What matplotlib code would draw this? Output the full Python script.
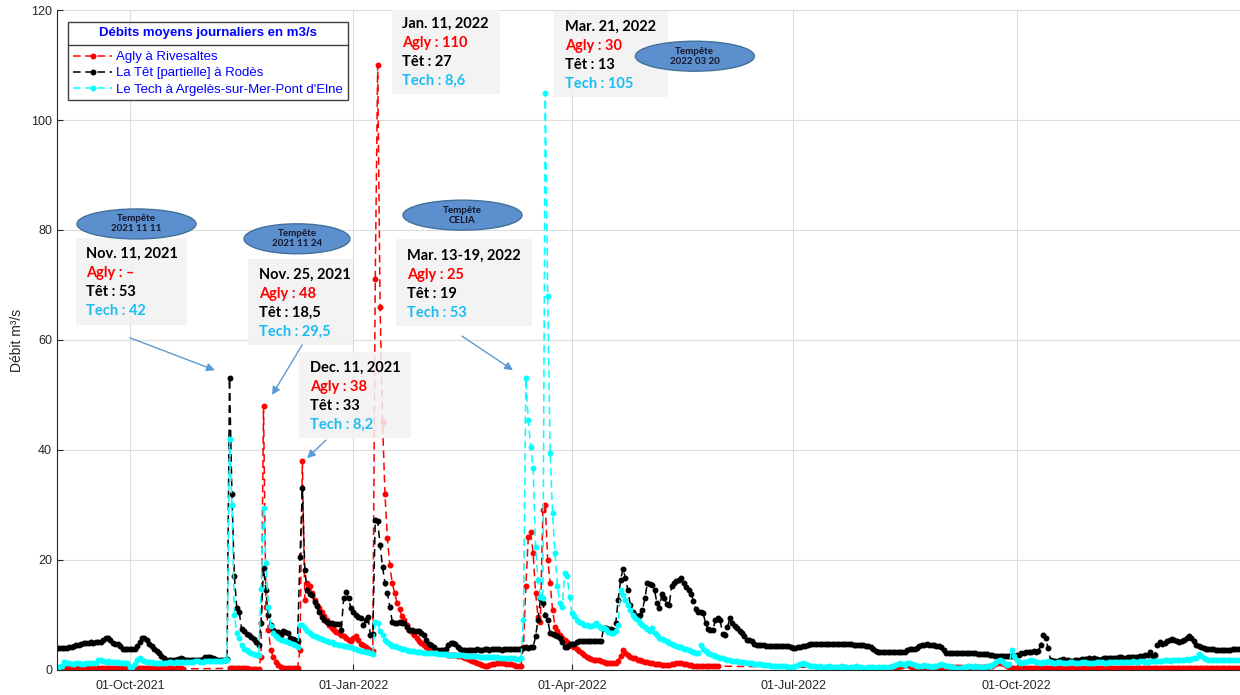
import numpy as np
import pandas as pd
import matplotlib
matplotlib.use("Agg")
import matplotlib.pyplot as plt
import matplotlib.dates as mdates
from matplotlib.lines import Line2D
from matplotlib.patches import Ellipse, Rectangle

NA = np.nan

# Daily mean discharge (m3/s), 1 Sep 2021 -> 31 Dec 2022, one block per month
agly = [
    # Sep 2021
    0.3, 0.3, 0.3, 0.3, 0.4, 0.4, 0.3, 0.3, 0.3, 0.3, 0.3, 0.3, 0.3, 0.3, 0.3,
    0.3, 0.3, 0.4, 0.4, 0.3, 0.3, 0.3, 0.3, 0.3, 0.3, 0.3, 0.3, 0.3, 0.3, 0.3,
    # Oct 2021
    0.3, 0.3, 0.3, 0.3, 0.4, 0.4, 0.3, 0.3, 0.3, 0.3, 0.3, 0.3, 0.3, 0.3, 0.3, 0.3,
    0.3, 0.3, 0.3, 0.3, 0.3, 0.3, 0.2, NA, NA, NA, NA, NA, NA, NA, NA,
    # Nov 2021
    NA, NA, NA, NA, NA, NA, NA, NA, NA, NA, 0.3, 0.3, 0.3, 0.3, 0.3,
    0.3, 0.3, 0.3, 0.2, 0.2, 0.2, 0.2, 0.2, 2.4, 48.0, 11.5, 7.3, 3.6, 2.4, 1.5,
    # Dec 2021
    0.9, 0.5, 0.3, 0.3, 0.3, 0.3, 0.3, 0.3, 0.3, 3.6, 38.0, 12.7, 15.8, 15.2, 14.0, 12.7,
    11.8, 11.2, 10.6, 9.8, 9.1, 8.2, 7.6, 7.3, 6.9, 6.7, 6.4, 6.1, 5.8, 5.5, 5.2,
    # Jan 2022
    5.8, 6.1, 5.4, 4.8, 4.5, 4.2, 3.9, 3.6, 3.4, 71.0, 110.0, 66.0, 45.0, 32.0, 24.0, 19.0,
    15.8, 14.0, 12.1, 11.0, 9.8, 9.0, 8.2, 7.3, 6.9, 6.4, 5.8, 5.2, 4.9, 4.5, 4.2,
    # Feb 2022
    3.9, 3.7, 3.5, 3.3, 3.2, 3.1, 3.0, 2.9, 2.8, 2.8, 2.7, 2.7, 2.6, 2.5,
    2.3, 2.2, 2.0, 1.8, 1.6, 1.4, 1.2, 1.0, 0.9, 0.8, 0.8, 0.9, 1.0, 1.0,
    # Mar 2022
    1.2, 1.2, 1.2, 1.2, 1.1, 1.0, 1.0, 0.9, 0.8, 0.8, 0.8, 4.2, 15.2, 24.2, 25.0, 21.2,
    14.0, 9.7, 8.8, 29.1, 30.0, 20.0, 15.8, 10.9, 7.9, 7.0, 6.4, 5.9, 5.5, 5.0, 4.6,
    # Apr 2022
    4.4, 4.2, 3.8, 3.4, 3.0, 2.7, 2.4, 2.2, 2.0, 1.9, 1.8, 1.8, 1.6, 1.4, 1.2,
    1.2, 1.2, 1.2, 1.3, 1.6, 2.6, 3.6, 3.0, 2.7, 2.4, 2.2, 2.1, 1.9, 1.8, 1.6,
    # May 2022
    1.5, 1.4, 1.3, 1.2, 1.1, 1.0, 1.0, 0.9, 0.9, 0.9, 0.9, 1.0, 1.1, 1.2, 1.3, 1.2,
    1.1, 1.0, 0.9, 0.9, 0.8, 0.8, 0.8, 0.7, 0.7, 0.7, 0.7, 0.7, 0.7, 0.7, 0.7,
    # Jun 2022 (no record)
    NA, NA, NA, NA, NA, NA, NA, NA, NA, NA, NA, NA, NA, NA, NA,
    NA, NA, NA, NA, NA, NA, NA, NA, NA, NA, NA, NA, NA, NA, NA,
    # Jul 2022 (no record)
    NA, NA, NA, NA, NA, NA, NA, NA, NA, NA, NA, NA, NA, NA, NA, NA,
    NA, NA, NA, NA, NA, NA, NA, NA, NA, NA, NA, NA, NA, NA, NA,
    # Aug 2022
    NA, NA, NA, NA, NA, NA, 0.3, 0.4, 0.4, 0.5, 0.5, 0.5, 0.6, 0.7, 0.8, 0.9,
    0.9, 0.8, 0.6, 0.4, 0.3, 0.3, 0.3, 0.3, 0.3, 0.4, 0.4, 0.5, 0.6, 0.6, 0.5,
    # Sep 2022
    0.5, 0.5, 0.6, 0.5, 0.5, 0.6, 0.5, 0.5, 0.4, 0.5, 0.5, 0.6, 0.5, 0.5, 0.5,
    0.6, 0.5, 0.5, 0.6, 0.7, 0.8, 1.0, 1.2, 1.3, 1.2, 1.0, 0.8, 0.6, 0.4, 0.3,
    # Oct 2022
    0.4, 0.3, 0.3, 0.3, 0.3, 0.3, 0.3, 0.3, 0.3, 0.3, 0.3, 0.3, 0.3, 0.3, 0.3, 0.3,
    0.3, 0.3, 0.3, 0.3, 0.3, 0.3, 0.3, 0.3, 0.3, 0.3, 0.3, 0.3, 0.3, 0.3, 0.3,
    # Nov 2022
    0.3, 0.3, 0.3, 0.3, 0.3, 0.3, 0.3, 0.3, 0.3, 0.3, 0.3, 0.3, 0.3, 0.3, 0.3,
    0.3, 0.3, 0.3, 0.3, 0.3, 0.3, 0.3, 0.3, 0.3, 0.3, 0.3, 0.3, 0.3, 0.3, 0.3,
    # Dec 2022
    0.3, 0.3, 0.3, 0.3, 0.3, 0.3, 0.3, 0.3, 0.3, 0.3, 0.3, 0.3, 0.3, 0.3, 0.3, 0.3,
    0.3, 0.3, 0.3, 0.3, 0.3, 0.3, 0.3, 0.3, 0.3, 0.3, 0.3, 0.3, 0.3, 0.3, 0.3,
]

tet = [
    # Sep 2021
    4.0, 4.0, 4.0, 4.0, 4.0, 4.1, 4.1, 4.3, 4.5, 4.6, 4.8, 4.9, 4.9, 4.9, 5.0,
    4.9, 5.0, 5.0, 5.1, 5.4, 5.9, 5.8, 5.5, 4.9, 4.8, 4.7, 4.3, 3.9, 3.8, 3.8,
    # Oct 2021
    3.8, 3.9, 3.9, 4.3, 5.0, 5.8, 5.9, 5.5, 4.8, 4.3, 3.9, 3.5, 3.0, 2.6, 2.2, 1.9,
    1.8, 1.8, 1.9, 1.9, 2.0, 2.1, 2.0, 1.9, 1.8, 1.8, 1.8, 1.8, 1.9, 1.9, 2.0,
    # Nov 2021
    2.3, 2.4, 2.3, 2.2, 2.0, 1.9, 1.9, 1.8, 1.9, 2.0, 53.0, 32.0, 17.0, 11.3, 10.5,
    7.4, 7.0, 6.6, 6.3, 6.0, 5.6, 5.0, 4.5, 8.5, 18.5, 14.5, 10.0, 8.2, 7.2, 6.9,
    # Dec 2021
    6.9, 6.4, 7.0, 6.9, 6.7, 5.9, 5.7, 5.5, 5.2, 20.6, 33.0, 18.2, 14.5, 13.9, 13.6, 12.4,
    11.6, 10.5, 9.7, 9.1, 8.8, 8.6, 8.5, 8.4, 8.4, 8.4, 7.3, 13.0, 14.2, 13.0, 11.2,
    # Jan 2022
    10.6, 10.0, 9.7, 9.4, 8.2, 9.0, 9.7, 6.4, 6.5, 27.3, 27.0, 22.7, 18.8, 15.8, 14.0, 11.5,
    8.8, 8.5, 8.6, 8.8, 8.6, 8.5, 7.9, 7.3, 7.2, 7.1, 7.0, 7.0, 6.8, 6.4, 5.5,
    # Feb 2022
    4.8, 4.5, 4.1, 3.5, 3.6, 3.6, 3.7, 3.9, 4.5, 4.9, 4.9, 4.8, 4.2, 3.8,
    3.7, 3.6, 3.6, 3.6, 3.7, 3.7, 3.8, 3.7, 3.7, 3.8, 3.8, 3.7, 3.8, 3.8,
    # Mar 2022
    3.8, 3.8, 3.7, 3.8, 3.9, 3.8, 3.8, 3.8, 3.9, 3.8, 3.9, 4.0, 4.1, 4.0, 4.1, 4.1,
    6.1, 9.1, 13.0, 12.1, 10.0, 9.1, 6.7, 6.5, 6.4, 6.1, 5.8, 5.0, 4.2, 4.2, 4.8,
    # Apr 2022
    4.8, 4.8, 5.0, 5.2, 5.2, 5.2, 5.2, 5.2, 5.2, 5.2, 5.2, 5.2, 5.2, 7.6, 7.6,
    7.5, 7.4, 7.3, 8.5, 12.7, 16.4, 18.4, 16.7, 14.5, 11.8, 10.6, 10.0, 9.4, 10.0, 10.9,
    # May 2022
    13.0, 15.8, 15.6, 15.5, 14.5, 12.1, 11.2, 13.9, 13.0, 12.0, 11.8, 15.2, 15.8, 16.1, 16.4, 16.7,
    15.8, 15.0, 14.5, 13.9, 12.5, 11.0, 10.6, 10.5, 10.3, 8.5, 7.5, 7.3, 7.3, 9.0, 9.4,
    # Jun 2022
    9.1, 6.5, 6.4, 7.8, 9.4, 8.5, 8.0, 7.6, 7.0, 6.7, 6.2, 5.5, 5.5, 5.2, 4.8,
    4.5, 4.5, 4.5, 4.5, 4.4, 4.4, 4.4, 4.4, 4.4, 4.4, 4.4, 4.4, 4.4, 4.3, 4.1,
    # Jul 2022
    4.0, 4.0, 4.1, 4.2, 4.3, 4.4, 4.6, 4.7, 4.7, 4.7, 4.7, 4.7, 4.8, 4.8, 4.8, 4.8,
    4.8, 4.8, 4.8, 4.7, 4.7, 4.7, 4.7, 4.7, 4.7, 4.6, 4.6, 4.6, 4.5, 4.5, 4.4,
    # Aug 2022
    4.4, 4.2, 3.8, 3.4, 3.2, 3.2, 3.2, 3.2, 3.2, 3.2, 3.2, 3.2, 3.2, 3.3, 3.3, 3.3,
    3.6, 3.9, 3.9, 3.9, 4.0, 4.3, 4.6, 4.6, 4.7, 4.5, 4.6, 4.5, 4.4, 4.4, 4.1,
    # Sep 2022
    3.6, 3.1, 3.0, 3.0, 3.0, 3.0, 3.0, 3.0, 3.0, 3.0, 3.0, 3.0, 3.0, 3.0, 2.9,
    2.9, 2.9, 2.9, 2.9, 2.8, 2.7, 2.6, 2.6, 2.6, 2.6, 2.6, 2.6, 2.5, 2.5, 2.6,
    # Oct 2022
    2.7, 2.8, 3.0, 3.1, 3.2, 3.2, 3.3, 3.4, 3.3, 3.5, 4.5, 6.3, 5.8, 4.0, 1.8, 1.6,
    1.6, 1.7, 1.9, 2.0, 1.9, 1.8, 1.7, 1.7, 1.8, 1.9, 1.9, 2.0, 2.0, 2.0, 2.1,
    # Nov 2022
    2.0, 2.1, 2.0, 1.9, 2.0, 2.1, 2.1, 2.2, 2.2, 2.1, 2.2, 2.3, 2.3, 2.2, 2.2,
    2.3, 2.4, 2.4, 2.3, 2.4, 2.5, 2.6, 2.7, 2.8, 3.3, 2.6, 2.8, 4.5, 5.0, 4.8,
    # Dec 2022
    4.9, 5.2, 5.4, 5.6, 5.5, 5.2, 5.1, 5.3, 5.4, 5.8, 6.2, 5.8, 5.2, 4.6, 4.3, 4.1,
    4.0, 3.9, 3.8, 3.8, 3.8, 3.7, 3.7, 3.6, 3.6, 3.6, 3.6, 3.7, 3.8, 3.8, 3.8,
]

tech = [
    # Sep 2021
    0.5, 0.6, 0.7, 1.5, 1.3, 1.2, 1.1, 1.1, 1.2, 1.2, 1.1, 1.1, 1.2, 1.2, 1.3,
    1.2, 1.3, 1.8, 1.9, 1.7, 1.5, 1.6, 1.5, 1.4, 1.5, 1.4, 1.3, 1.3, 1.2, 1.2,
    # Oct 2021
    0.5, 0.6, 1.0, 1.8, 2.2, 1.8, 1.6, 1.5, 1.4, 1.4, 1.3, 1.3, 1.3, 1.2, 1.3, 1.3,
    1.4, 1.4, 1.3, 1.4, 1.5, 1.5, 1.4, 1.4, 1.5, 1.5, 1.5, 1.6, 1.6, 1.5, 1.5,
    # Nov 2021
    1.6, 1.6, 1.7, 1.7, 1.6, 1.6, 1.7, 1.7, 1.8, 1.8, 42.0, 30.0, 10.0, 6.7, 5.8,
    4.5, 3.9, 3.6, 3.2, 3.0, 2.9, 2.8, 2.7, 14.8, 29.5, 19.4, 11.5, 8.0, 6.7, 6.1,
    # Dec 2021
    5.8, 5.5, 5.4, 5.2, 5.0, 4.9, 4.7, 4.5, 4.2, 8.2, 8.2, 7.6, 7.0, 6.7, 6.4, 6.2,
    6.0, 5.8, 5.6, 5.4, 5.2, 5.1, 5.0, 4.8, 4.7, 4.6, 4.5, 4.4, 4.3, 4.2, 4.1,
    # Jan 2022
    4.0, 3.8, 3.7, 3.5, 3.4, 3.3, 3.2, 3.0, 2.9, 8.8, 8.6, 7.0, 6.4, 5.5, 5.0, 4.7,
    4.4, 4.3, 4.1, 4.0, 3.9, 3.8, 3.7, 3.5, 3.5, 3.4, 3.3, 3.2, 3.2, 3.1, 3.1,
    # Feb 2022
    3.1, 3.0, 3.0, 3.0, 2.9, 2.9, 2.9, 2.9, 2.8, 2.8, 2.8, 2.7, 2.7, 2.7,
    2.7, 2.6, 2.6, 2.6, 2.5, 2.5, 2.5, 2.4, 2.4, 2.4, 2.4, 2.3, 2.3, 2.3,
    # Mar 2022
    2.3, 2.2, 2.2, 2.2, 2.1, 2.1, 2.1, 2.1, 2.0, 2.0, 2.1, 9.1, 53.0, 45.5, 40.6, 36.7,
    22.4, 16.4, 13.3, 13.0, 105.0, 68.0, 39.4, 28.5, 21.2, 15.2, 12.1, 11.5, 17.6, 17.0, 13.3,
    # Apr 2022
    10.3, 9.8, 9.1, 8.8, 8.5, 8.2, 8.1, 8.0, 8.0, 8.2, 8.5, 8.0, 7.6, 7.6, 7.5,
    6.9, 6.8, 6.8, 7.0, 8.2, 14.5, 13.6, 12.7, 11.8, 10.9, 10.0, 9.4, 9.1, 8.5, 8.2,
    # May 2022
    7.9, 7.4, 7.0, 7.6, 6.7, 6.3, 5.9, 5.6, 5.4, 5.2, 4.9, 4.7, 4.5, 4.4, 4.2, 4.1,
    3.9, 3.8, 3.6, 3.4, 3.3, 3.1, 3.0, 4.5, 3.8, 3.4, 3.1, 2.9, 2.7, 2.5, 2.4,
    # Jun 2022
    2.2, 2.1, 2.0, 1.9, 1.8, 1.7, 1.6, 1.6, 1.5, 1.5, 1.4, 1.3, 1.2, 1.2, 1.1,
    1.1, 1.0, 1.0, 0.9, 0.9, 0.9, 0.8, 0.8, 0.8, 0.7, 0.7, 0.7, 0.7, 0.6, 0.6,
    # Jul 2022
    0.6, 0.7, 0.9, 1.1, 1.2, 1.1, 0.9, 0.8, 0.7, 0.7, 0.6, 0.7, 0.6, 0.5, 0.6, 0.7,
    0.6, 0.5, 0.5, 0.6, 0.7, 0.6, 0.5, 0.4, 0.5, 0.6, 0.7, 0.6, 0.5, 0.4, 0.4,
    # Aug 2022
    0.5, 0.6, 0.5, 0.4, 0.5, 0.6, 0.6, 0.5, 0.4, 0.6, 0.8, 0.9, 1.1, 1.2, 1.0, 0.9,
    1.2, 1.3, 1.1, 0.9, 0.8, 0.7, 0.8, 0.9, 0.8, 0.7, 0.6, 0.7, 0.8, 0.9, 1.0,
    # Sep 2022
    0.9, 0.8, 0.7, 0.6, 0.5, 0.4, 0.3, 0.4, 0.5, 0.6, 0.7, 0.7, 0.6, 0.7, 0.6,
    0.5, 0.5, 0.6, 0.7, 0.8, 0.9, 1.2, 1.6, 1.8, 1.6, 1.2, 0.9, 1.1, 3.6, 2.5,
    # Oct 2022
    1.8, 1.5, 1.3, 1.4, 1.5, 1.7, 1.8, 1.6, 1.5, 1.4, 1.3, 1.4, 1.5, 1.6, 1.4, 1.3,
    1.3, 1.4, 1.4, 1.3, 1.3, 1.3, 1.4, 1.4, 1.3, 1.3, 1.3, 1.4, 1.4, 1.3, 1.3,
    # Nov 2022
    1.3, 1.3, 1.4, 1.4, 1.4, 1.3, 1.3, 1.4, 1.4, 1.5, 1.4, 1.4, 1.5, 1.5, 1.4,
    1.4, 1.5, 1.6, 1.5, 1.5, 1.6, 1.6, 1.5, 1.5, 1.6, 1.7, 1.6, 1.6, 1.7, 1.7,
    # Dec 2022
    1.8, 1.8, 1.7, 1.8, 1.9, 1.9, 1.8, 1.9, 1.9, 2.0, 1.9, 2.0, 2.1, 2.2, 2.9, 2.5,
    2.2, 2.0, 1.9, 1.9, 1.8, 1.8, 1.8, 1.8, 1.8, 1.8, 1.8, 1.8, 1.8, 1.8, 1.8,
]

series_names = [
    "Agly à Rivesaltes",
    "La Têt [partielle] à Rodès",
    "Le Tech à Argelès-sur-Mer-Pont d'Elne",
]
series_colors = ["#ff0000", "#000000", "#00ffff"]

# Event call-outs: date line, then the three stations
note_titles = ["Nov. 11, 2021", "Nov. 25, 2021", "Dec. 11, 2021",
               "Jan. 11, 2022", "Mar. 21, 2022", "Mar. 13-19, 2022"]
note_agly = ["Agly : –", "Agly : 48", "Agly : 38", "Agly : 110", "Agly : 30", "Agly : 25"]
note_tet = ["Têt : 53", "Têt : 18,5", "Têt : 33", "Têt : 27", "Têt : 13", "Têt : 19"]
note_tech = ["Tech : 42", "Tech : 29,5", "Tech : 8,2", "Tech : 8,6", "Tech : 105", "Tech : 53"]
# where each call-out sits (text left edge, first line level, box width in days)
note_x = ["2021-09-13", "2021-11-23", "2021-12-14", "2022-01-21", "2022-03-29", "2022-01-23"]
note_y = [75.6, 71.8, 54.9, 117.5, 116.9, 75.3]
note_w = [46.0, 43.0, 46.0, 44.5, 47.0, 56.0]

storm_labels = ["Tempête\n2021 11 11", "Tempête\n2021 11 24", "Tempête\nCELIA", "Tempête\n2022 03 20"]
storm_x = ["2021-10-03 17:00", "2021-12-08 19:00", "2022-02-14 22:00", "2022-05-21 14:00"]
storm_y = [81.1, 78.4, 82.7, 111.6]
storm_w = [49.0, 43.6, 49.0, 49.0]

arrow_from = [("2021-10-01 01:00", 60.4), ("2021-12-10 22:00", 59.1),
              ("2021-12-20 17:00", 41.8), ("2022-02-14 17:00", 60.7)]
arrow_to = [("2021-11-05", 54.5), ("2021-11-28 12:00", 50.0),
            ("2021-12-12 22:00", 38.5), ("2022-03-07 17:00", 54.5)]

dates = pd.date_range("2021-09-01", "2022-12-31", freq="D")
for values in (agly, tet, tech):
    assert len(values) == len(dates)

plt.rcParams["font.family"] = ["Liberation Sans", "DejaVu Sans"]
TXT = "#262626"

fig = plt.figure(figsize=(12.4, 6.95), dpi=100)
ax = fig.add_axes([0.046, 0.036, 0.954, 0.9496])

for name, values, color in zip(series_names, (agly, tet, tech), series_colors):
    v = np.asarray(values, dtype=float)
    ok = ~np.isnan(v)
    # missing days are simply skipped, so the dashed line bridges the gap
    ax.plot(dates[ok], v[ok], color=color, ls=(0, (5, 3)), lw=1.1,
            marker=".", ms=6.5, label=name, zorder=2)

ax.set_xlim(pd.Timestamp("2021-09-01"), pd.Timestamp("2023-01-01"))
ax.set_ylim(0, 120)
ax.set_yticks(range(0, 121, 20))
ax.set_xticks(pd.to_datetime(["2021-10-01", "2022-01-01", "2022-04-01",
                              "2022-07-01", "2022-10-01"]))
ax.xaxis.set_major_formatter(mdates.DateFormatter("%d-%b-%Y"))
ax.grid(True, color="#dcdcdc", lw=0.8)
ax.set_axisbelow(True)
ax.tick_params(direction="in", length=4, width=0.8, colors=TXT, labelsize=9)
ax.tick_params(axis="x", pad=7)
for side in ("top", "right"):
    ax.spines[side].set_visible(False)
for side in ("left", "bottom"):
    ax.spines[side].set_color(TXT)
    ax.spines[side].set_linewidth(0.8)
ax.set_ylabel("Débit m³/s", fontsize=10, color=TXT, labelpad=5)

# grey call-out boxes
line_colors = ["#000000", "#ff0000", "#000000", "#1cbcf2"]
for i in range(len(note_titles)):
    x0 = mdates.date2num(pd.Timestamp(note_x[i]))
    y0 = note_y[i]
    ax.add_patch(Rectangle((x0 - 4.3, y0 - 12.8), note_w[i], 15.8,
                           facecolor="#f2f2f2", edgecolor="none", alpha=0.85, zorder=4))
    lines = [note_titles[i], note_agly[i], note_tet[i], note_tech[i]]
    for k, (txt, col) in enumerate(zip(lines, line_colors)):
        ax.text(x0, y0 - 3.45 * k, txt, color=col, fontsize=10.5, fontweight="bold",
                family=["Lato", "DejaVu Sans"], ha="left", va="center", zorder=5)

# storm badges
for lab, sx, sy, sw in zip(storm_labels, storm_x, storm_y, storm_w):
    cx = mdates.date2num(pd.Timestamp(sx))
    ax.add_patch(Ellipse((cx, sy), sw, 5.45, facecolor="#5b8fcd",
                         edgecolor="#41719c", lw=1.0, zorder=6))
    ax.text(cx, sy, lab, ha="center", va="center", fontsize=7, fontweight="bold",
            family=["Lato", "DejaVu Sans"], color="#15152a", linespacing=1.15, zorder=7)

for (tx, ty), (hx, hy) in zip(arrow_from, arrow_to):
    ax.annotate("", xy=(pd.Timestamp(hx), hy), xytext=(pd.Timestamp(tx), ty),
                arrowprops=dict(arrowstyle="-|>", color="#5b9bd5", lw=1.0,
                                mutation_scale=12, shrinkA=0, shrinkB=0), zorder=6)

leg = ax.legend(loc="upper left", bbox_to_anchor=(0.0095, 0.982),
                title="Débits moyens journaliers en m3/s", fontsize=9.5,
                title_fontsize=9.5, frameon=True, fancybox=False, edgecolor="#404040",
                framealpha=1, borderpad=0.35, handlelength=3.0, handletextpad=0.3,
                labelspacing=0.3, borderaxespad=0)
leg.get_title().set_color("#0000ff")
leg.get_title().set_fontweight("bold")
for t in leg.get_texts():
    t.set_color("#0000ff")
leg.get_frame().set_linewidth(1.0)
leg.set_zorder(10)
# leave room for a rule between the title and the entries
leg._legend_box.sep = 9

# rule under the legend title
fig.canvas.draw()
renderer = fig.canvas.get_renderer()
fb = leg.get_frame().get_window_extent(renderer)
tb = leg.get_title().get_window_extent(renderer)
first = leg.get_texts()[0].get_window_extent(renderer)
inv = fig.transFigure.inverted()
ysep = 0.5 * (tb.y0 + first.y1)
(sx0, sy0), (sx1, _) = inv.transform([(fb.x0, ysep), (fb.x1, ysep)])
fig.add_artist(Line2D([sx0, sx1], [sy0, sy0], color="#404040", lw=1.0, zorder=11))

fig.savefig("out.png", dpi=100)
